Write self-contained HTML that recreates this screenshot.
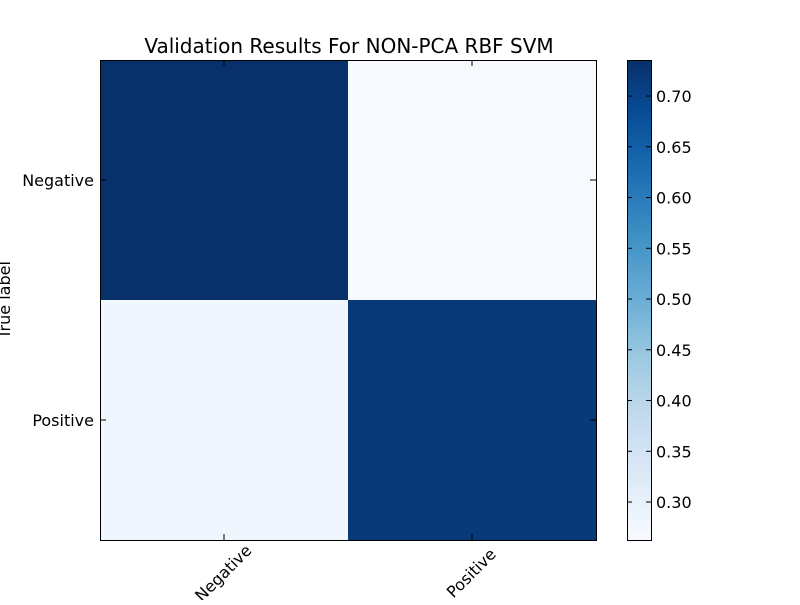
<!DOCTYPE html>
<html><head><meta charset="utf-8"><style>
body{margin:0;background:#fff}
svg text{font-family:"DejaVu Sans","Liberation Sans",sans-serif;font-size:16px;fill:#000}
</style></head><body>
<svg id="chart" width="800" height="600" xmlns="http://www.w3.org/2000/svg">
<defs>
<linearGradient id="cb" x1="0" y1="1" x2="0" y2="0">
<stop offset="0" stop-color="#f7fbff"/><stop offset="0.125" stop-color="#deebf7"/><stop offset="0.25" stop-color="#c6dbef"/><stop offset="0.375" stop-color="#9ecae1"/><stop offset="0.5" stop-color="#6baed6"/><stop offset="0.625" stop-color="#4292c6"/><stop offset="0.75" stop-color="#2171b5"/><stop offset="0.875" stop-color="#08519c"/><stop offset="1" stop-color="#08306b"/>
</linearGradient>
</defs>
<text x="349" y="53" text-anchor="middle" style="font-size:20px">Validation Results For NON-PCA RBF SVM</text>
<g id="cells"></g>
<rect x="100.5" y="60.5" width="496" height="480" fill="none" stroke="#000"/>
<g id="axes"></g>
<rect x="627.5" y="60.5" width="24" height="480" fill="url(#cb)" stroke="#000"/>
<g id="cbticks"></g>
<text transform="translate(10,300) rotate(-90)" text-anchor="middle">True label</text>
</svg>
<script>
const labels = ["Negative", "Positive"];
const values = [[0.735, 0.265], [0.28, 0.72]];
const cbTicks = [0.30, 0.35, 0.40, 0.45, 0.50, 0.55, 0.60, 0.65, 0.70];
const vmin = 0.2626, vmax = 0.7355;
const NS = "http://www.w3.org/2000/svg";
const px0 = 100, py0 = 60, pw = 496, ph = 480;
const stops = ["#f7fbff","#deebf7","#c6dbef","#9ecae1","#6baed6","#4292c6","#2171b5","#08519c","#08306b"];
function hex(h){return [1,3,5].map(i=>parseInt(h.substr(i,2),16));}
function cmap(v){let t=Math.max(0,Math.min(1,(v-vmin)/(vmax-vmin)))*8;let i=Math.min(7,Math.floor(t)),f=t-i;const a=hex(stops[i]),b=hex(stops[i+1]);return "rgb("+a.map((c,k)=>Math.round(c+(b[k]-c)*f)).join(",")+")";}
function mk(tag,attrs,parent){const e=document.createElementNS(NS,tag);for(const k in attrs)e.setAttribute(k,attrs[k]);parent.appendChild(e);return e;}
const n = labels.length, cw = pw/n, ch = ph/n;
const cells = document.getElementById("cells");
values.forEach((row,r)=>row.forEach((v,c)=>{
  const el = mk("rect",{x:px0+c*cw,y:py0+r*ch,width:cw,height:ch,fill:cmap(v)},cells);
  
  
}));
const axes = document.getElementById("axes");
labels.forEach((l,i)=>{
  const cx = px0+(i+0.5)*cw, cy = py0+(i+0.5)*ch;
  mk("line",{x1:cx,y1:540,x2:cx,y2:534,stroke:"#000"},axes);
  mk("line",{x1:cx,y1:60,x2:cx,y2:66,stroke:"#000"},axes);
  mk("line",{x1:100,y1:cy,x2:106,y2:cy,stroke:"#000"},axes);
  mk("line",{x1:596,y1:cy,x2:590,y2:cy,stroke:"#000"},axes);
  const xt = mk("text",{x:0,y:0,"text-anchor":"middle","dominant-baseline":"middle",transform:"translate("+cx+","+(545+l.length*3.6)+") rotate(-45)"},axes);
  xt.textContent = l;
  
  
  const yt = mk("text",{x:94,y:cy+6,"text-anchor":"end"},axes);
  yt.textContent = l;
  
  
});
const cbg = document.getElementById("cbticks");
cbTicks.forEach(t=>{
  const y = 540 - (t-vmin)/(vmax-vmin)*480;
  mk("line",{x1:651,y1:y,x2:646,y2:y,stroke:"#000"},cbg);
  mk("line",{x1:627,y1:y,x2:632,y2:y,stroke:"#000"},cbg);
  const tx = mk("text",{x:656,y:y+6},cbg);
  tx.textContent = t.toFixed(2);
  
  
});
</script>
</body></html>
